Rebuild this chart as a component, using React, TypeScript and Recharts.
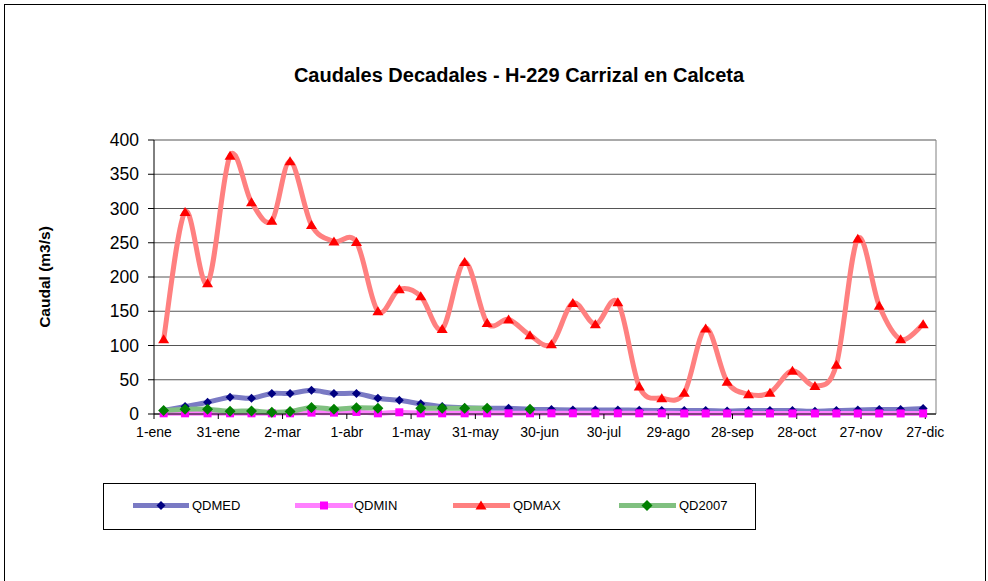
import { CartesianGrid, Line, LineChart, ReferenceLine, XAxis, YAxis } from 'recharts';

// decade mid-points, as day of year (1-ene = 0)
const decadeDays = [
  4.5, 14.5, 25, 35.5, 45.5, 55, 63.5, 73.5, 84, 94.5, 104.5, 114.5,
  124.5, 134.5, 145, 155.5, 165.5, 175.5, 185.5, 195.5, 206, 216.5, 226.5, 237,
  247.5, 257.5, 267.5, 277.5, 287.5, 298, 308.5, 318.5, 328.5, 338.5, 348.5, 359,
];

const qdmed = [
  5, 11, 17, 24.5, 23, 30, 30, 34.5, 30, 30, 23, 20,
  15, 11, 9, 8.5, 8.3, 7, 6.5, 6, 6, 6, 5.5, 5,
  5, 5, 4.5, 5, 5, 5, 4, 5, 6, 6.5, 6.5, 8,
];

const qdmin = [
  1, 1, 1, 1, 1, 1, 1, 2, 2, 3, 1, 2.5,
  1, 1, 1, 1, 1, 1, 1, 1, 1, 1, 1, 1,
  0.8, 0.8, 0.8, 0.8, 0.8, 0.8, 0.8, 0.8, 0.8, 0.8, 0.8, 0.8,
];

const qdmax = [
  109, 295, 191, 377, 309, 282, 369, 276, 252, 251, 150, 182,
  172, 124, 222, 133, 138, 115, 102, 162, 131, 163, 40, 23,
  31, 125, 47, 29, 31, 63, 41, 72, 256, 158, 109, 131,
];

const qd2007: (number | null)[] = [
  5, 7, 7, 4, 4.5, 2.5, 3.5, 9.5, 7, 9, 8.5, null,
  8.5, 8.5, 8.5, 8.5, null, 7, null, null, null, null, null, null,
  null, null, null, null, null, null, null, null, null, null, null, null,
];

const xTicks = [0, 30, 60, 90, 120, 150, 180, 210, 240, 270, 300, 330, 360];
const xTickLabels = [
  '1-ene', '31-ene', '2-mar', '1-abr', '1-may', '31-may', '30-jun',
  '30-jul', '29-ago', '28-sep', '28-oct', '27-nov', '27-dic',
];
const yTicks = [0, 50, 100, 150, 200, 250, 300, 350, 400];

const data = decadeDays.map((day, i) => ({
  day,
  QDMED: qdmed[i],
  QDMIN: qdmin[i],
  QDMAX: qdmax[i],
  QD2007: qd2007[i],
}));

const FONT = '"Liberation Sans", Arial, sans-serif';

// Excel-like smoothed line (Catmull-Rom through the points)
const excelSmooth = (context: any) => {
  let pts: [number, number][] = [];
  return {
    areaStart() {},
    areaEnd() {},
    lineStart() {
      pts = [];
    },
    lineEnd() {
      const n = pts.length;
      if (n === 0) return;
      context.moveTo(pts[0][0], pts[0][1]);
      if (n === 1) {
        context.lineTo(pts[0][0], pts[0][1]);
        return;
      }
      for (let i = 0; i < n - 1; i++) {
        const p0 = pts[Math.max(i - 1, 0)];
        const p1 = pts[i];
        const p2 = pts[i + 1];
        const p3 = pts[Math.min(i + 2, n - 1)];
        context.bezierCurveTo(
          p1[0] + (p2[0] - p0[0]) / 6,
          p1[1] + (p2[1] - p0[1]) / 6,
          p2[0] - (p3[0] - p1[0]) / 6,
          p2[1] - (p3[1] - p1[1]) / 6,
          p2[0],
          p2[1],
        );
      }
    },
    point(x: number, y: number) {
      pts.push([+x, +y]);
    },
  };
};

type Shape = 'diamond' | 'square' | 'triangle';

const markerPath = (shape: Shape, cx: number, cy: number, r: number) => {
  if (shape === 'diamond') return `M${cx},${cy - r}L${cx + r},${cy}L${cx},${cy + r}L${cx - r},${cy}Z`;
  if (shape === 'square') return `M${cx - r},${cy - r}H${cx + r}V${cy + r}H${cx - r}Z`;
  return `M${cx},${cy - r}L${cx + r + 0.5},${cy + r * 0.8}L${cx - r - 0.5},${cy + r * 0.8}Z`;
};

const makeDot = (shape: Shape, color: string, r: number) => (props: any) => {
  const { cx, cy, index, value } = props;
  if (cx == null || cy == null || value == null || Number.isNaN(cy)) return <g key={`e-${index}`} />;
  return <path key={`m-${index}`} d={markerPath(shape, cx, cy, r)} fill={color} stroke="none" />;
};

const series = [
  { key: 'QDMED', line: '#7a7ac4', marker: '#000080', shape: 'diamond' as Shape, r: 4.5 },
  { key: 'QDMIN', line: '#ff80ff', marker: '#ff00ff', shape: 'square' as Shape, r: 4 },
  { key: 'QDMAX', line: '#ff8080', marker: '#ff0000', shape: 'triangle' as Shape, r: 5 },
  { key: 'QD2007', line: '#80c080', marker: '#008000', shape: 'diamond' as Shape, r: 5.5 },
];

const legendPos = [
  { x0: 29, x1: 85, m: 57, t: 88 },
  { x0: 191, x1: 249, m: 220, t: 250 },
  { x0: 349, x1: 406, m: 377, t: 409 },
  { x0: 515, x1: 572, m: 543, t: 575 },
];

export default function App() {
  return (
    <div
      style={{
        position: 'absolute',
        left: 0,
        top: 0,
        width: 988,
        height: 581,
        overflow: 'hidden',
        background: '#fff',
        fontFamily: FONT,
      }}
    >
      <div
        style={{
          position: 'absolute',
          left: 4,
          top: 4,
          width: 980,
          height: 700,
          border: '1px solid #000',
        }}
      />
      <div
        style={{
          position: 'absolute',
          left: 219,
          top: 64,
          width: 600,
          textAlign: 'center',
          fontSize: 20,
          fontWeight: 'bold',
          lineHeight: '23px',
        }}
      >
        Caudales Decadales - H-229 Carrizal en Calceta
      </div>
      <div
        style={{
          position: 'absolute',
          left: 45,
          top: 277,
          width: 0,
          height: 0,
        }}
      >
        <div
          style={{
            position: 'absolute',
            left: -100,
            top: -10,
            width: 200,
            height: 20,
            lineHeight: '20px',
            textAlign: 'center',
            fontSize: 15.5,
            fontWeight: 'bold',
            transform: 'rotate(-90deg)',
          }}
        >
          Caudal (m3/s)
        </div>
      </div>

      <div style={{ position: 'absolute', left: 0, top: 0 }}>
        <LineChart width={988} height={470} data={data} margin={{ top: 140, right: 52, left: 94, bottom: 26 }}>
          <CartesianGrid vertical={false} stroke="#555" horizontalValues={yTicks} />
          <XAxis
            type="number"
            dataKey="day"
            domain={[0, 365]}
            ticks={xTicks}
            interval={0}
            tickFormatter={(v: number) => xTickLabels[xTicks.indexOf(v)] ?? ''}
            height={30}
            tickSize={5}
            tickMargin={8}
            stroke="#000"
            tick={{ fontSize: 14, fill: '#000', fontFamily: FONT }}
          />
          <YAxis
            type="number"
            domain={[0, 400]}
            ticks={yTicks}
            interval={0}
            width={60}
            tickSize={6}
            tickMargin={9}
            stroke="#000"
            tick={{ fontSize: 17.5, fill: '#000', fontFamily: FONT }}
          />
          <ReferenceLine x={365} stroke="#808080" />
          {series.map((s) => (
            <Line
              key={s.key}
              dataKey={s.key}
              name={s.key}
              type={excelSmooth as any}
              stroke={s.line}
              strokeWidth={5}
              dot={makeDot(s.shape, s.marker, s.r)}
              activeDot={false}
              connectNulls={false}
              isAnimationActive={false}
            />
          ))}
        </LineChart>
      </div>

      <div
        style={{
          position: 'absolute',
          left: 103,
          top: 483,
          width: 653,
          height: 47,
          boxSizing: 'border-box',
          border: '1px solid #000',
        }}
      >
        <svg width={651} height={45} style={{ position: 'absolute', left: 0, top: 0 }}>
          {series.map((s, i) => {
            const p = legendPos[i];
            return (
              <g key={s.key}>
                <line x1={p.x0} x2={p.x1} y1={21.5} y2={21.5} stroke={s.line} strokeWidth={5} />
                <path d={markerPath(s.shape, p.m, 21.5, s.r)} fill={s.marker} />
                <text x={p.t} y={26} fontSize={13} fontFamily={FONT} fill="#000">
                  {s.key}
                </text>
              </g>
            );
          })}
        </svg>
      </div>
    </div>
  );
}
